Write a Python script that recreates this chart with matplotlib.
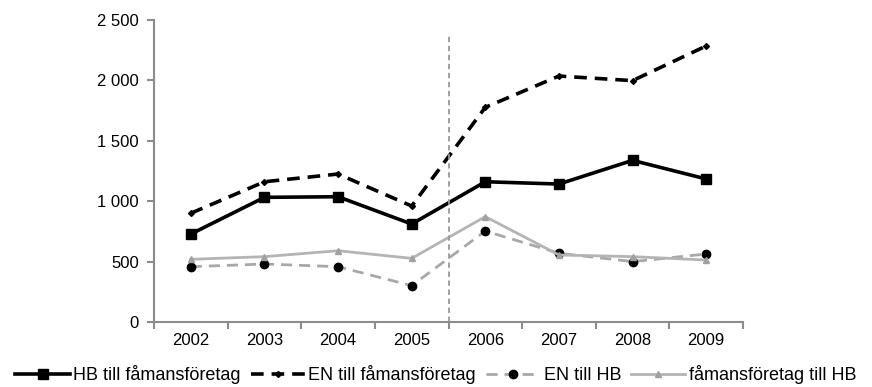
import matplotlib
matplotlib.use("Agg")
import matplotlib.pyplot as plt
from matplotlib.ticker import FuncFormatter, FixedLocator
import numpy as np

years = ["2002", "2003", "2004", "2005", "2006", "2007", "2008", "2009"]
hb_famans = [728, 1032, 1037, 811, 1161, 1142, 1338, 1184]
en_famans = [900, 1161, 1225, 960, 1777, 2036, 1998, 2285]
en_hb = [458, 480, 458, 301, 753, 569, 500, 563]
famans_hb = [519, 541, 590, 527, 872, 555, 541, 513]

plt.rcParams['font.family'] = ['Liberation Sans', 'DejaVu Sans']

fig = plt.figure(figsize=(8.72, 3.87), dpi=100)
ax = fig.add_axes([154 / 872, 65 / 387, (743 - 154) / 872, 302 / 387])

x = np.arange(len(years))
axc = "#8c8c8c"

ax.plot(x, hb_famans, color="black", lw=2.6, marker="s", ms=7,
        label="HB till fåmansföretag")
ax.plot(x, en_famans, color="black", lw=2.6, ls=(0, (3.5, 2.2)), marker="D", ms=3,
        label="EN till fåmansföretag")
ax.plot(x, en_hb, color="#a8a8a8", lw=2, ls=(0, (4, 2.5)), marker="o", ms=6,
        mfc="black", mec="black", label="EN till HB")
ax.plot(x, famans_hb, color="#b4b4b4", lw=2, marker="^", ms=5,
        mfc="#a0a0a0", mec="#a0a0a0", label="fåmansföretag till HB")

ax.plot([3.5, 3.5], [0, 2390], color="#9a9a9a", lw=1.3, ls=(0, (3, 2)))

ax.set_xlim(-0.5, 7.5)
ax.set_ylim(0, 2500)
ax.set_yticks(range(0, 2501, 500))
ax.yaxis.set_major_formatter(FuncFormatter(lambda v, p: f"{int(v):,}".replace(",", " ")))
ax.set_xticks(x)
ax.set_xticklabels(years)
ax.xaxis.set_minor_locator(FixedLocator(np.arange(-0.5, 8, 1)))
ax.tick_params(axis="x", which="major", length=0, pad=8, labelsize=12)
ax.tick_params(axis="x", which="minor", length=5, width=1.5, color=axc, direction="out")
ax.tick_params(axis="y", length=5, width=1.5, color=axc, direction="out", labelsize=12, pad=6)

for s in ["top", "right"]:
    ax.spines[s].set_visible(False)
for s in ["left", "bottom"]:
    ax.spines[s].set_color(axc)
    ax.spines[s].set_linewidth(1.5)

fig.legend(loc="center", bbox_to_anchor=(0.5, 12 / 387), ncol=4, frameon=False,
           fontsize=13, handlelength=3, handletextpad=0.2, columnspacing=0.55,
           borderpad=0, borderaxespad=0)

fig.savefig("out.png", dpi=100, facecolor="white")
